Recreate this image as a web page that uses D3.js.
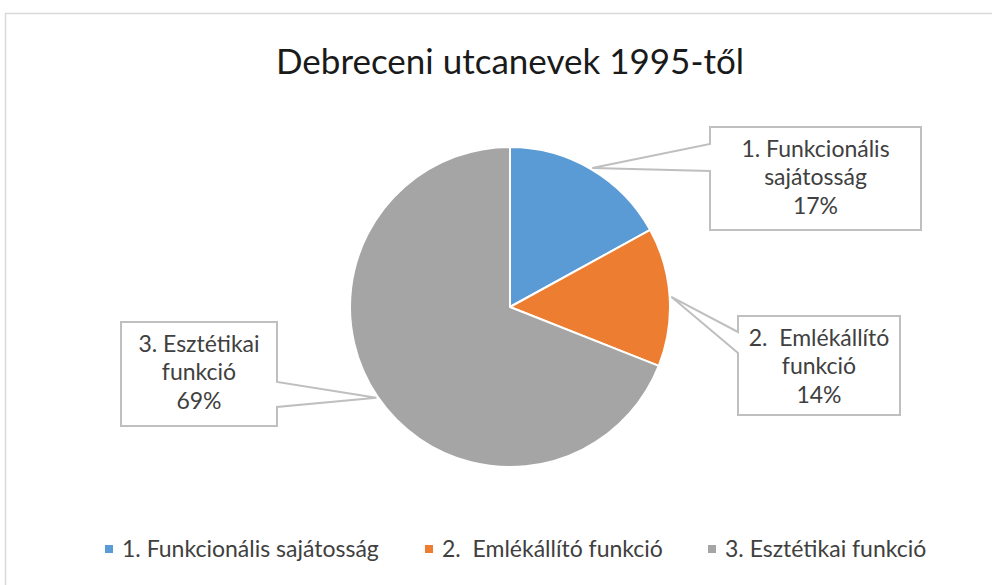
<!DOCTYPE html>
<html>
<head>
<meta charset="utf-8">
<script src="https://cdn.jsdelivr.net/npm/d3@7"></script>
<style>
  body { margin: 0; background: #fff; }
  svg text { font-family: Lato, "Open Sans", sans-serif; fill: #404040; }
</style>
</head>
<body>
<div id="main"></div>
<script>
const title = "Debreceni utcanevek 1995-től";
const categories = ["1. Funkcionális sajátosság", "2.  Emlékállító funkció", "3. Esztétikai funkció"];
const labelLines = [["1. Funkcionális", "sajátosság"], ["2.  Emlékállító", "funkció"], ["3. Esztétikai", "funkció"]];
const values = [17, 14, 69];
const colors = ["#5B9BD5", "#ED7D31", "#A5A5A5"];

const width = 992;
const height = 585;
const cx = 510, cy = 307, radius = 160;

// callout boxes: x, y, w, h, side where the pointer attaches, pointer span on that side
const boxes = [
  {x: 710, y: 127, w: 211, h: 103, side: "left", p0: 144, p1: 171},
  {x: 738, y: 316, w: 162, h: 99, side: "left", p0: 332, p1: 353},
  {x: 121, y: 322, w: 156, h: 104, side: "right", p0: 382, p1: 407}
];

const svg = d3.select("#main").append("svg")
  .attr("width", width)
  .attr("height", height);

svg.append("rect")
  .attr("x", 5.5).attr("y", 13.5)
  .attr("width", 1000).attr("height", 600)
  .attr("fill", "#fff")
  .attr("stroke", "#D9D9D9")
  .attr("stroke-width", 1.5);

svg.append("text")
  .attr("x", cx).attr("y", 74)
  .attr("text-anchor", "middle")
  .attr("xml:space", "preserve")
  .style("font-size", "35px")
  .style("fill", "#1a1a1a")
  .text(title);

const pie = d3.pie().sort(null).value(d => d);
const arcs = pie(values);
const arc = d3.arc().innerRadius(0).outerRadius(radius);
const tipArc = d3.arc().innerRadius(radius * 1.01).outerRadius(radius * 1.01);

const g = svg.append("g").attr("transform", `translate(${cx},${cy})`);
g.selectAll("path")
  .data(arcs)
  .enter()
  .append("path")
  .attr("d", arc)
  .attr("fill", (d, i) => colors[i])
  .attr("stroke", "#fff")
  .attr("stroke-width", 2)
  .attr("stroke-linejoin", "round");

// callouts
arcs.forEach((d, i) => {
  const b = boxes[i];
  const c = tipArc.centroid(d);
  const tx = cx + c[0], ty = cy + c[1];
  let pts;
  if (b.side === "left") {
    pts = [[b.x, b.y], [b.x + b.w, b.y], [b.x + b.w, b.y + b.h], [b.x, b.y + b.h],
           [b.x, b.p1], [tx, ty], [b.x, b.p0]];
  } else {
    pts = [[b.x, b.y], [b.x + b.w, b.y], [b.x + b.w, b.p0], [tx, ty], [b.x + b.w, b.p1],
           [b.x + b.w, b.y + b.h], [b.x, b.y + b.h]];
  }
  svg.append("path")
    .attr("d", d3.line()(pts) + "Z")
    .attr("fill", "#fff")
    .attr("stroke", "#BFBFBF")
    .attr("stroke-width", 2);

  const lines = labelLines[i].concat([Math.round(d.value) + "%"]);
  const t = svg.append("text")
    .attr("text-anchor", "middle")
    .attr("xml:space", "preserve")
    .style("font-size", "23px");
  lines.forEach((ln, k) => {
    t.append("tspan")
      .attr("x", b.x + b.w / 2)
      .attr("y", b.y + 29.5 + k * 28.5)
      .text(ln);
  });
});

// legend
const legendX = [105, 425, 708];
const legend = svg.append("g");
categories.forEach((c, i) => {
  legend.append("rect")
    .attr("x", legendX[i]).attr("y", 545)
    .attr("width", 8).attr("height", 8)
    .attr("fill", colors[i]);
  legend.append("text")
    .attr("x", legendX[i] + 17).attr("y", 557)
    .style("font-size", "23px")
    .attr("xml:space", "preserve")
    .text(c);
});
</script>
</body>
</html>
